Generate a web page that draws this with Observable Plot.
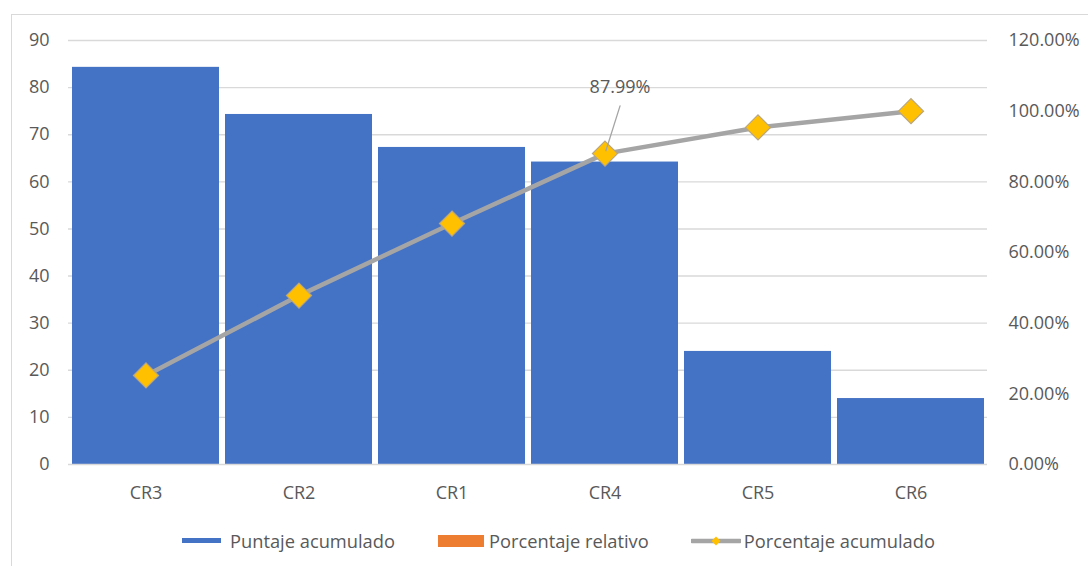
<!DOCTYPE html>
<html>
<head>
<meta charset="utf-8">
<script src="https://cdn.jsdelivr.net/npm/d3@7"></script>
<script src="https://cdn.jsdelivr.net/npm/@observablehq/plot@0.6"></script>
<style>
  html, body { margin: 0; padding: 0; background: #fff; overflow: hidden; }
  #wrap { position: relative; width: 1088px; height: 566px; font-family: "Open Sans", sans-serif; color: #595959; }
  #frame { position: absolute; left: 11px; top: 14px; width: 1200px; height: 700px; border: 1.5px solid #d9d9d9; box-sizing: border-box; }
  #chart { position: relative; }
  #chart svg { display: block; }
  #legend { position: relative; height: 51px; display: flex; align-items: center; padding-left: 182px; font-size: 18.3px; }
  .item { display: flex; align-items: center; }
  .item span.label { white-space: nowrap; }
</style>
</head>
<body>
<div id="wrap">
  <div id="frame"></div>
  <div id="chart"></div>
  <div id="legend"></div>
</div>
<script>
// Criteria, sorted by accumulated score (Pareto order)
const categories = ["CR3", "CR2", "CR1", "CR4", "CR5", "CR6"];
const puntajeAcumulado = [84.3, 74.3, 67.3, 64.2, 24.0, 14.0];
const porcentajeAcumulado = [25.2, 47.8, 68.2, 87.99, 95.4, 100.0];

// Axis ticks
const yTicks = [0, 10, 20, 30, 40, 50, 60, 70, 80, 90];
const pctTicks = [0, 20, 40, 60, 80, 100, 120];

// Point whose value is called out
const labelledCategory = "CR4";

// Legend entries
const seriesNames = ["Puntaje acumulado", "Porcentaje relativo", "Porcentaje acumulado"];

const rows = categories.map((c, i) => ({
  cat: c,
  puntaje: puntajeAcumulado[i],
  pct: porcentajeAcumulado[i]
}));

// The percentage axis (0–120%) shares the score axis (0–90)
const yMax = d3.max(yTicks);
const pctMax = d3.max(pctTicks);
const k = yMax / pctMax;
const toY = p => p * k;

const grid = "#d9d9d9";
const blue = "#4472C4";
const orange = "#ED7D31";
const gray = "#A5A5A5";
const gold = "#FFC000";

const labelled = rows.filter(d => d.cat === labelledCategory);

const chart = Plot.plot({
  width: 1088,
  height: 515,
  marginLeft: 68,
  marginRight: 101,
  marginTop: 40,
  marginBottom: 51,
  style: { fontFamily: "'Open Sans', sans-serif", fontSize: "18px", color: "#595959", background: "transparent" },
  x: { domain: categories, paddingInner: 0.04, paddingOuter: 0.02, label: null },
  y: { domain: [0, yMax], label: null },
  marks: [
    Plot.gridY(yTicks.filter(t => t > 0), { stroke: grid, strokeOpacity: 1, strokeWidth: 1.4 }),
    Plot.barY(rows, { x: "cat", y: "puntaje", fill: blue, inset: 0 }),
    Plot.ruleY([0], { stroke: grid, strokeWidth: 1.6 }),
    Plot.axisY(yTicks, { anchor: "left", tickSize: 0, tickPadding: 19, label: null }),
    Plot.axisY(pctTicks.map(toY), {
      anchor: "right", tickSize: 0, tickPadding: 21, label: null,
      tickFormat: v => (v / k).toFixed(2) + "%"
    }),
    Plot.axisX({ tickSize: 0, tickPadding: 22, label: null }),
    Plot.line(rows, { x: "cat", y: d => toY(d.pct), stroke: gray, strokeWidth: 4.5 }),
    Plot.dot(rows, {
      x: "cat", y: d => toY(d.pct), symbol: "diamond2", r: 11.3,
      fill: gold, stroke: "#B9A680", strokeWidth: 1.2
    }),
    Plot.vector(labelled, {
      x: "cat", y: d => toY(d.pct), anchor: "start", length: 50, rotate: 17.5,
      stroke: gray, strokeWidth: 1.3,
      shape: { draw(context, l) { context.moveTo(0, -3); context.lineTo(0, -l); } }
    }),
    Plot.text(labelled, {
      x: "cat", y: d => toY(d.pct), text: d => d.pct.toFixed(2) + "%",
      dx: 15, dy: -66, fill: "#595959", fontSize: 18
    })
  ]
});
document.getElementById("chart").appendChild(chart);

// Legend
const legend = d3.select("#legend");
const swatches = [
  sel => sel.append("div").style("width", "39px").style("height", "5.5px").style("background", blue),
  sel => sel.append("div").style("width", "46px").style("height", "12px").style("background", orange),
  sel => {
    const s = sel.append("svg").attr("width", 50).attr("height", 14);
    s.append("line").attr("x1", 1).attr("x2", 49).attr("y1", 7).attr("y2", 7)
      .attr("stroke", gray).attr("stroke-width", 4.5).attr("stroke-linecap", "round");
    s.append("path").attr("d", "M25,2.5L29.5,7L25,11.5L20.5,7Z").attr("fill", gold);
  }
];
const gaps = [9, 5, 3];
const after = [43, 42, 0];
seriesNames.forEach((name, i) => {
  const item = legend.append("div").attr("class", "item").style("margin-right", after[i] + "px");
  swatches[i](item);
  item.append("span").attr("class", "label").style("margin-left", gaps[i] + "px").text(name);
});
</script>
</body>
</html>
